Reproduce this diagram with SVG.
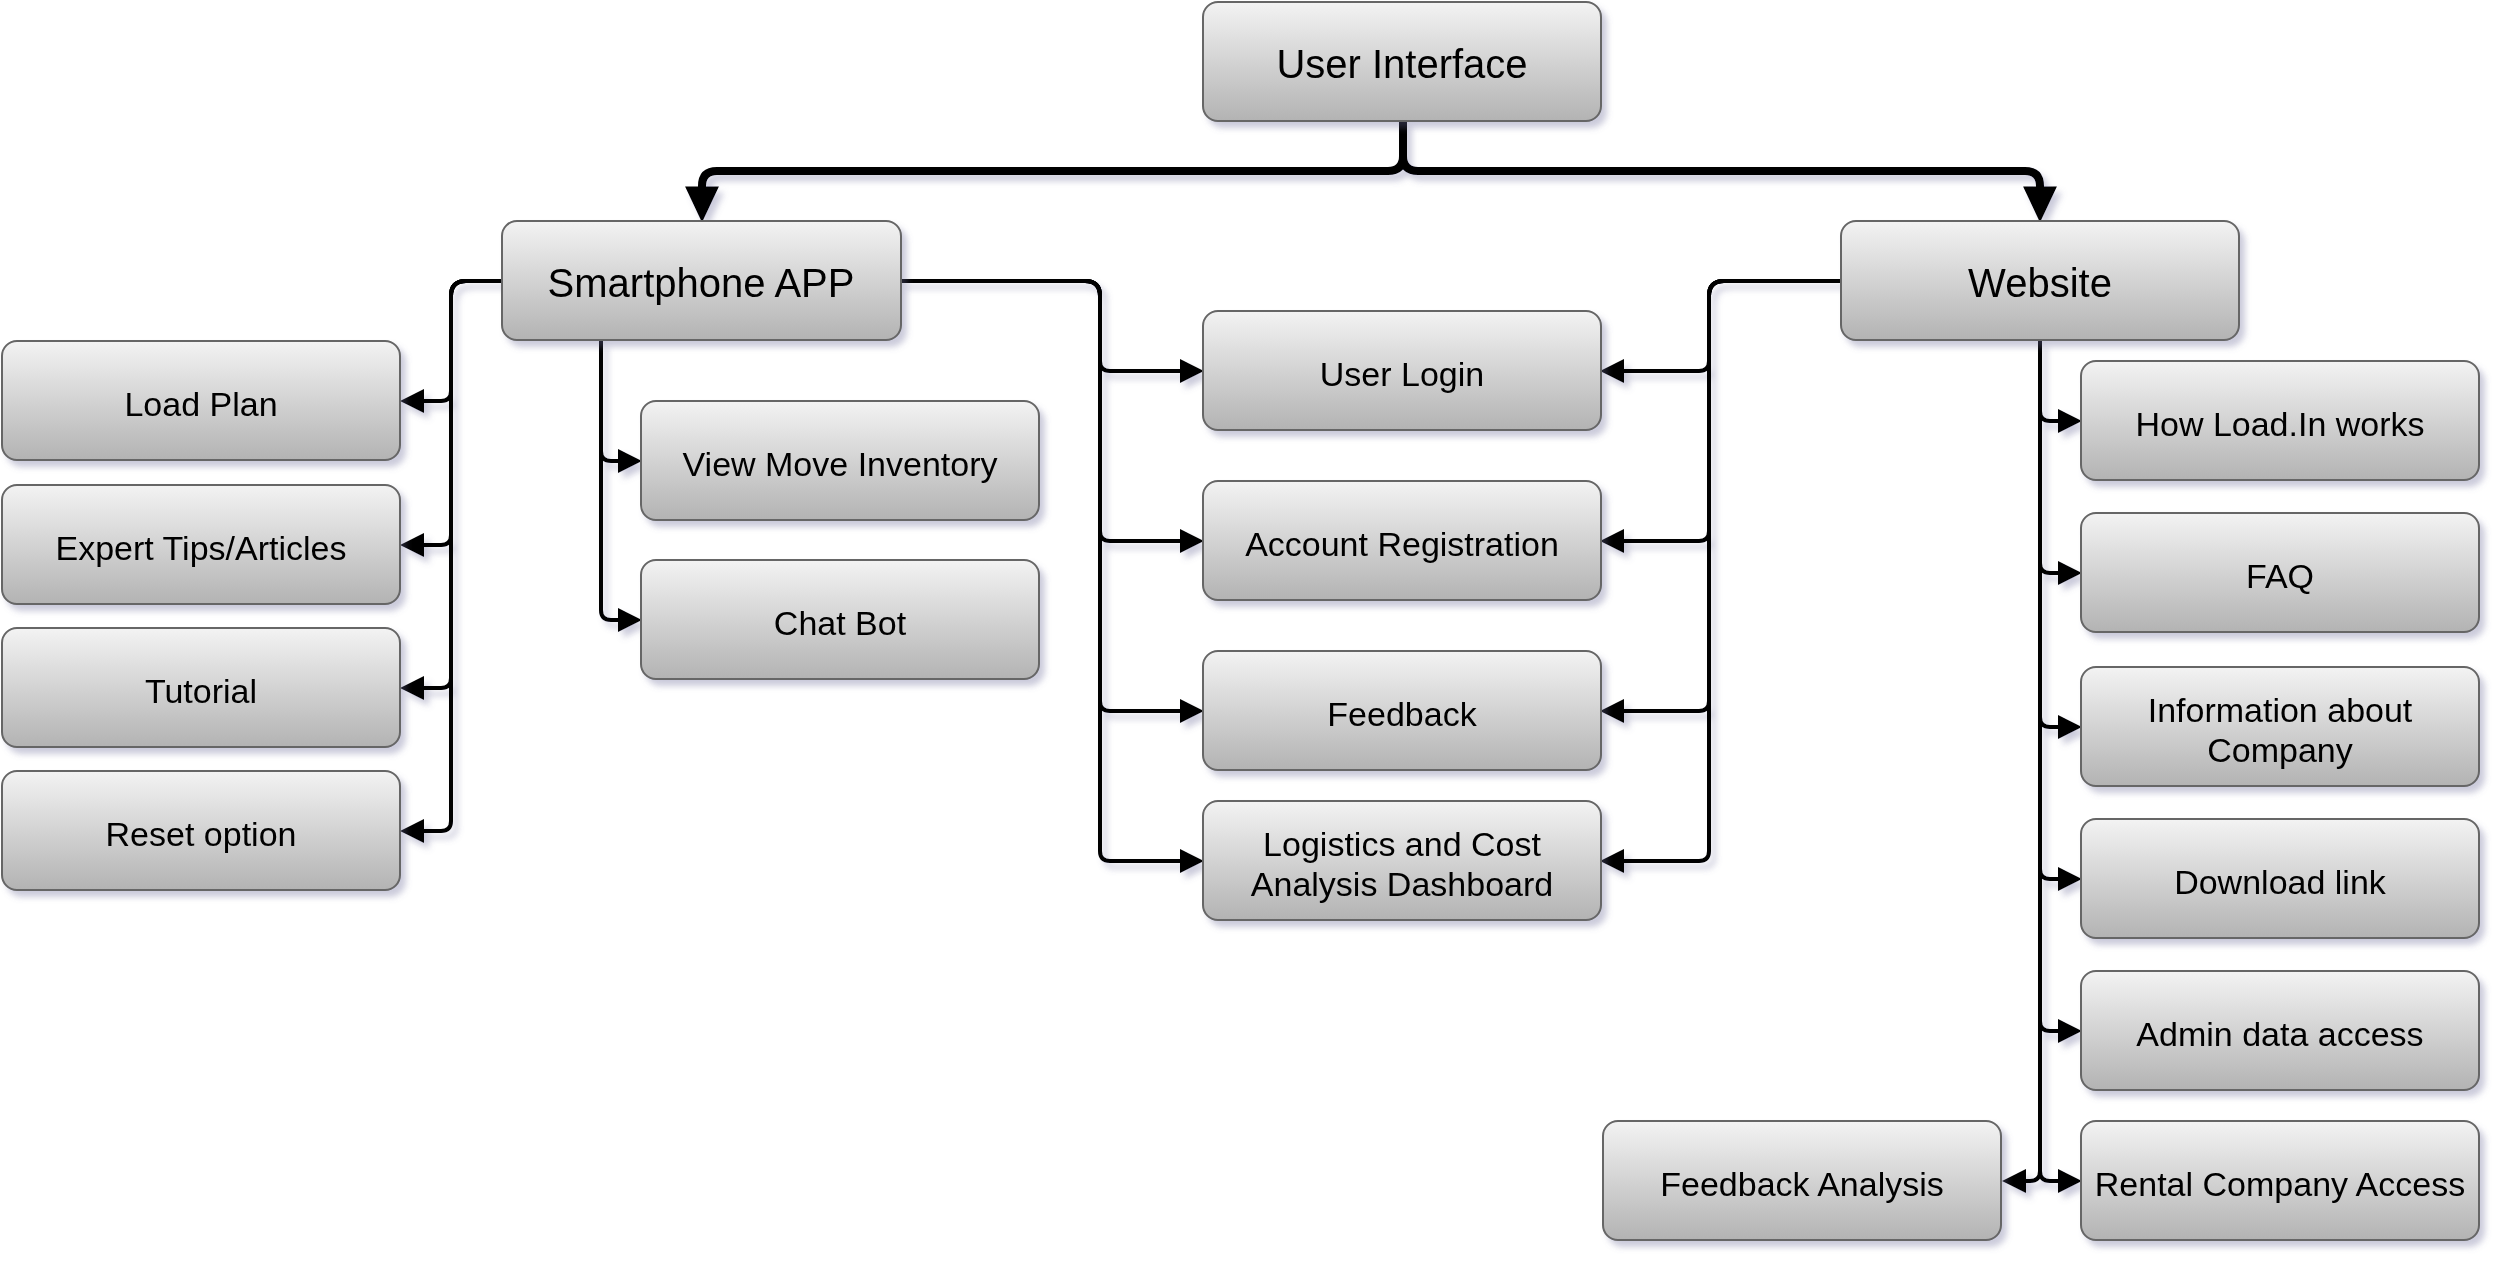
<svg xmlns="http://www.w3.org/2000/svg" width="2504" height="1264" viewBox="0 0 2504 1264">
<defs>
<linearGradient id="g" x1="0" y1="0" x2="0" y2="1">
<stop offset="0" stop-color="#f3f3f3"/>
<stop offset="1" stop-color="#b3b3b3"/>
</linearGradient>
<filter id="sh" x="-10%" y="-10%" width="130%" height="140%">
<feDropShadow dx="5" dy="6" stdDeviation="3" flood-color="#6a6a98" flood-opacity="0.35"/>
</filter>
<marker id="a" markerUnits="userSpaceOnUse" markerWidth="24" markerHeight="24" viewBox="0 0 22 22" refX="12" refY="11" orient="auto">
<path d="M0,0 L22,11 L0,22 z" fill="#000"/>
</marker>
<marker id="A" markerUnits="userSpaceOnUse" markerWidth="36" markerHeight="34" viewBox="0 0 33 31" refX="17" refY="15.5" orient="auto">
<path d="M0,0 L33,15.5 L0,31 z" fill="#000"/>
</marker>
</defs>
<style>
.box{fill:url(#g);stroke:#666666;stroke-width:2}
.t{font-family:"Liberation Sans",Arial,sans-serif;font-size:34px;fill:#000;text-anchor:middle}
.T{font-family:"Liberation Sans",Arial,sans-serif;font-size:40px;fill:#000;text-anchor:middle}
.c{fill:none;stroke:#000;stroke-width:4;marker-end:url(#a)}
.C{fill:none;stroke:#000;stroke-width:8;marker-end:url(#A)}
</style>
<g id="connectors" filter="url(#sh)">
<path class="C" d="M1403 121 V156 Q1403 171 1388 171 H717 Q702 171 702 186 V205"/>
<path class="C" d="M1403 121 V156 Q1403 171 1418 171 H2025 Q2040 171 2040 186 V205"/>
<path class="c" d="M502 281 H466 Q451 281 451 296 V391 Q451 401 441 401 H411"/>
<path class="c" d="M502 281 H466 Q451 281 451 296 V535 Q451 545 441 545 H411"/>
<path class="c" d="M502 281 H466 Q451 281 451 296 V678 Q451 688 441 688 H411"/>
<path class="c" d="M502 281 H466 Q451 281 451 296 V821 Q451 831 441 831 H411"/>
<path class="c" d="M601 341 V451 Q601 461 611 461 H631"/>
<path class="c" d="M601 341 V610 Q601 620 611 620 H631"/>
<path class="c" d="M901 281 H1085 Q1100 281 1100 296 V361 Q1100 371 1110 371 H1193"/>
<path class="c" d="M901 281 H1085 Q1100 281 1100 296 V531 Q1100 541 1110 541 H1193"/>
<path class="c" d="M901 281 H1085 Q1100 281 1100 296 V701 Q1100 711 1110 711 H1193"/>
<path class="c" d="M901 281 H1085 Q1100 281 1100 296 V851 Q1100 861 1110 861 H1193"/>
<path class="c" d="M1841 281 H1724 Q1709 281 1709 296 V361 Q1709 371 1699 371 H1611"/>
<path class="c" d="M1841 281 H1724 Q1709 281 1709 296 V531 Q1709 541 1699 541 H1611"/>
<path class="c" d="M1841 281 H1724 Q1709 281 1709 296 V701 Q1709 711 1699 711 H1611"/>
<path class="c" d="M1841 281 H1724 Q1709 281 1709 296 V851 Q1709 861 1699 861 H1611"/>
<path class="c" d="M2040 341 V411 Q2040 421 2050 421 H2071"/>
<path class="c" d="M2040 341 V563 Q2040 573 2050 573 H2071"/>
<path class="c" d="M2040 341 V717 Q2040 727 2050 727 H2071"/>
<path class="c" d="M2040 341 V869 Q2040 879 2050 879 H2071"/>
<path class="c" d="M2040 341 V1021 Q2040 1031 2050 1031 H2071"/>
<path class="c" d="M2040 341 V1171 Q2040 1181 2050 1181 H2071"/>
<path class="c" d="M2040 341 V1171 Q2040 1181 2030 1181 H2013"/>
</g>
<g id="user-interface" filter="url(#sh)"><rect class="box" x="1203" y="2" width="398" height="119" rx="15"/><text class="T" x="1402" y="78">User Interface</text></g>
<g id="smartphone-app" filter="url(#sh)"><rect class="box" x="502" y="221" width="399" height="119" rx="15"/><text class="T" x="701" y="297">Smartphone APP</text></g>
<g id="website" filter="url(#sh)"><rect class="box" x="1841" y="221" width="398" height="119" rx="15"/><text class="T" x="2040" y="297">Website</text></g>
<g id="load-plan" filter="url(#sh)"><rect class="box" x="2" y="341" width="398" height="119" rx="15"/><text class="t" x="201" y="416">Load Plan</text></g>
<g id="expert-tips" filter="url(#sh)"><rect class="box" x="2" y="485" width="398" height="119" rx="15"/><text class="t" x="201" y="560">Expert Tips/Articles</text></g>
<g id="tutorial" filter="url(#sh)"><rect class="box" x="2" y="628" width="398" height="119" rx="15"/><text class="t" x="201" y="703">Tutorial</text></g>
<g id="reset-option" filter="url(#sh)"><rect class="box" x="2" y="771" width="398" height="119" rx="15"/><text class="t" x="201" y="846">Reset option</text></g>
<g id="view-move-inventory" filter="url(#sh)"><rect class="box" x="641" y="401" width="398" height="119" rx="15"/><text class="t" x="840" y="476">View Move Inventory</text></g>
<g id="chat-bot" filter="url(#sh)"><rect class="box" x="641" y="560" width="398" height="119" rx="15"/><text class="t" x="840" y="635">Chat Bot</text></g>
<g id="user-login" filter="url(#sh)"><rect class="box" x="1203" y="311" width="398" height="119" rx="15"/><text class="t" x="1402" y="386">User Login</text></g>
<g id="account-registration" filter="url(#sh)"><rect class="box" x="1203" y="481" width="398" height="119" rx="15"/><text class="t" x="1402" y="556">Account Registration</text></g>
<g id="feedback" filter="url(#sh)"><rect class="box" x="1203" y="651" width="398" height="119" rx="15"/><text class="t" x="1402" y="726">Feedback</text></g>
<g id="logistics" filter="url(#sh)"><rect class="box" x="1203" y="801" width="398" height="119" rx="15"/><text class="t" x="1402" y="856">Logistics and Cost</text><text class="t" x="1402" y="896">Analysis Dashboard</text></g>
<g id="how-loadin-works" filter="url(#sh)"><rect class="box" x="2081" y="361" width="398" height="119" rx="15"/><text class="t" x="2280" y="436">How Load.In works</text></g>
<g id="faq" filter="url(#sh)"><rect class="box" x="2081" y="513" width="398" height="119" rx="15"/><text class="t" x="2280" y="588">FAQ</text></g>
<g id="info-company" filter="url(#sh)"><rect class="box" x="2081" y="667" width="398" height="119" rx="15"/><text class="t" x="2280" y="722">Information about</text><text class="t" x="2280" y="762">Company</text></g>
<g id="download-link" filter="url(#sh)"><rect class="box" x="2081" y="819" width="398" height="119" rx="15"/><text class="t" x="2280" y="894">Download link</text></g>
<g id="admin-data-access" filter="url(#sh)"><rect class="box" x="2081" y="971" width="398" height="119" rx="15"/><text class="t" x="2280" y="1046">Admin data access</text></g>
<g id="rental-company-access" filter="url(#sh)"><rect class="box" x="2081" y="1121" width="398" height="119" rx="15"/><text class="t" x="2280" y="1196">Rental Company Access</text></g>
<g id="feedback-analysis" filter="url(#sh)"><rect class="box" x="1603" y="1121" width="398" height="119" rx="15"/><text class="t" x="1802" y="1196">Feedback Analysis</text></g>
</svg>
